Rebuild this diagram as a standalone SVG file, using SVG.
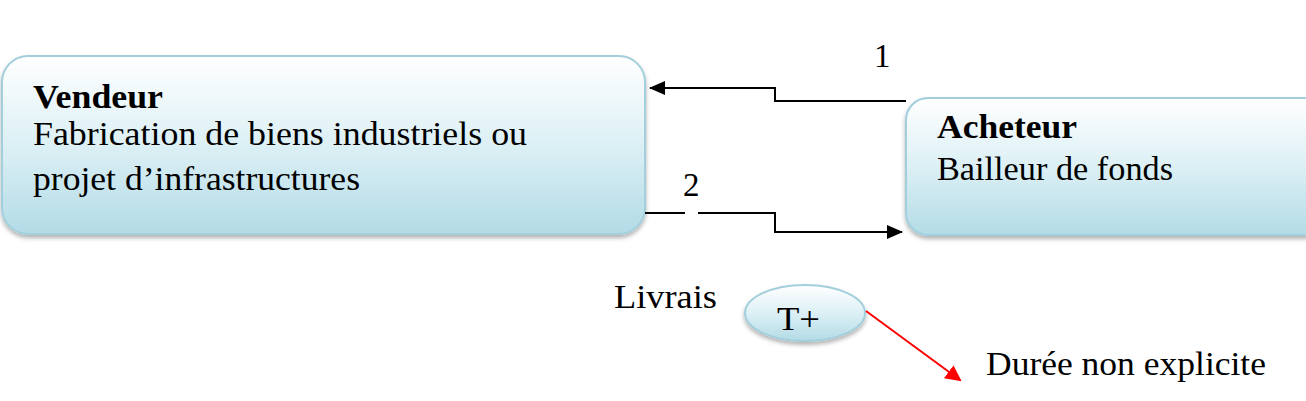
<svg xmlns="http://www.w3.org/2000/svg" width="1306" height="401" viewBox="0 0 1306 401">
<style>
.t{font-family:"Liberation Serif","Times New Roman",serif;font-size:33px;fill:#000}
.b{font-weight:bold}
.box{fill:url(#g);stroke:#a3cfdc;stroke-width:2;filter:url(#sh)}
.ln{fill:none;stroke:#000;stroke-width:2}
</style>
<defs>
<linearGradient id="g" x1="0" y1="0" x2="0" y2="1">
<stop offset="0" stop-color="#ffffff"/>
<stop offset="0.5" stop-color="#dcf0f5"/>
<stop offset="1" stop-color="#b3dbe6"/>
</linearGradient>
<filter id="sh" x="-5%" y="-10%" width="110%" height="130%">
<feDropShadow dx="0" dy="3" stdDeviation="2" flood-color="#000" flood-opacity="0.3"/>
</filter>
<marker id="ah" markerWidth="16" markerHeight="14" refX="15" refY="7" orient="auto" markerUnits="userSpaceOnUse" viewBox="0 0 16 14">
<path d="M0,0 L16,7 L0,14 z" fill="#000"/>
</marker>
<marker id="ahr" markerWidth="16" markerHeight="16" refX="14" refY="8" orient="auto" markerUnits="userSpaceOnUse" viewBox="0 0 16 16">
<path d="M0,0 L16,8 L0,16 z" fill="#ff0000"/>
</marker>
</defs>
<g id="vendeur">
<rect class="box" x="2" y="56" width="643" height="178" rx="26"/>
<text class="t b" x="33" y="108" textLength="130" lengthAdjust="spacingAndGlyphs">Vendeur</text>
<text class="t" x="33" y="145" textLength="494" lengthAdjust="spacingAndGlyphs">Fabrication de biens industriels ou</text>
<text class="t" x="33" y="190" textLength="327" lengthAdjust="spacingAndGlyphs">projet d’infrastructures</text>
</g>
<g id="acheteur">
<rect class="box" x="906" y="98" width="420" height="137" rx="22"/>
<text class="t b" x="937" y="138" textLength="140" lengthAdjust="spacingAndGlyphs">Acheteur</text>
<text class="t" x="937" y="180" textLength="236" lengthAdjust="spacingAndGlyphs">Bailleur de fonds</text>
</g>
<g id="tplus">
<ellipse cx="805" cy="313" rx="60" ry="28" fill="url(#g)" stroke="#a3cfdc" stroke-width="2" filter="url(#sh)"/>
<text class="t" x="777" y="330" textLength="43" lengthAdjust="spacingAndGlyphs">T+</text>
</g>
<g id="connectors">
<polyline class="ln" points="906,101 775,101 775,88 650,88" marker-end="url(#ah)"/>
<polyline class="ln" points="645,213 775,213 775,232 902,232" marker-end="url(#ah)"/>
<rect x="685" y="209" width="13" height="6" fill="#fff"/>
<line x1="866" y1="311" x2="960" y2="380" stroke="#ff0000" stroke-width="2" marker-end="url(#ahr)"/>
</g>
<g id="labels">
<text class="t" x="874" y="67">1</text>
<text class="t" x="683" y="196">2</text>
<text class="t" x="614" y="308" textLength="103" lengthAdjust="spacingAndGlyphs">Livrais</text>
<text class="t" x="986" y="375" textLength="280" lengthAdjust="spacingAndGlyphs">Durée non explicite</text>
</g>
</svg>
